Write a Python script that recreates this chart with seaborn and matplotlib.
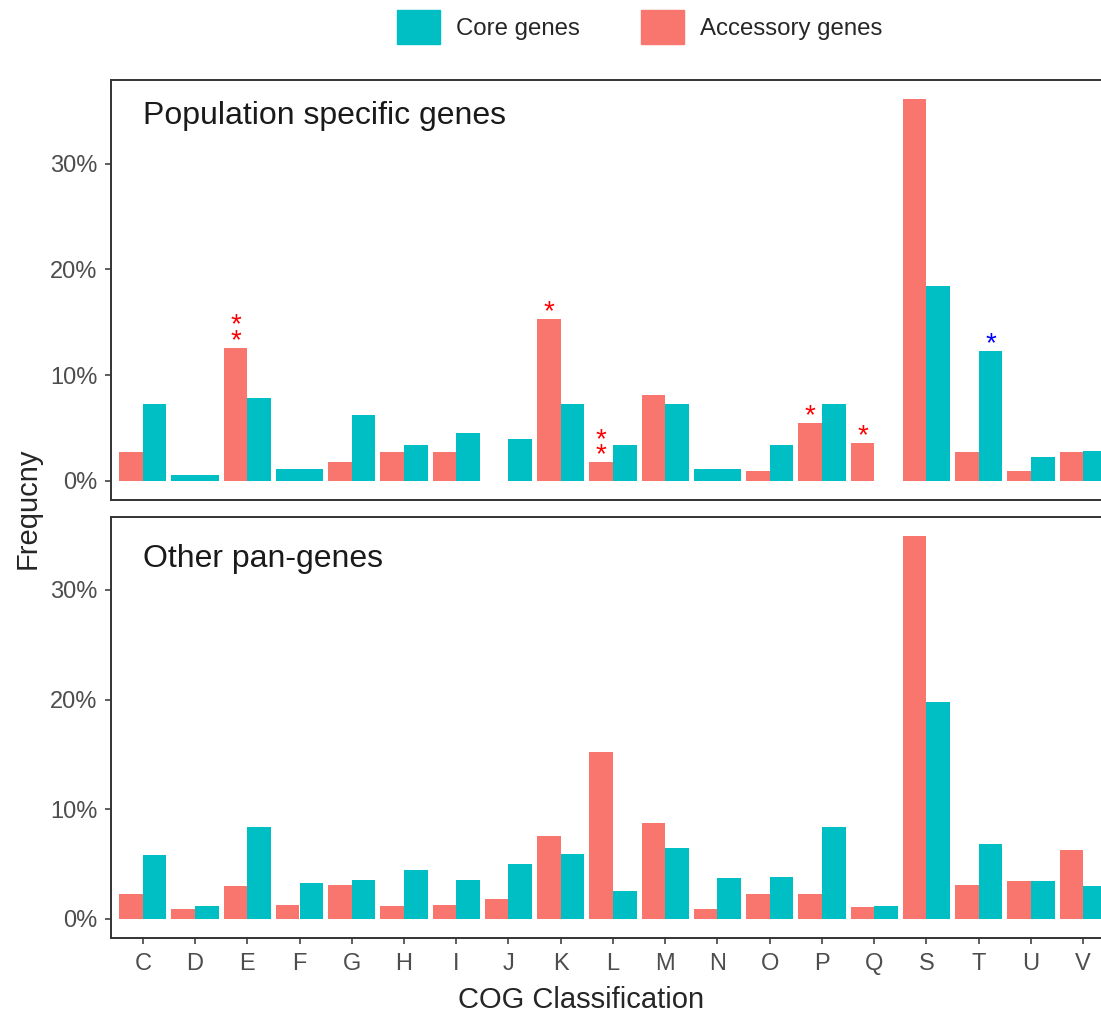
import numpy as np
import pandas as pd
import seaborn as sns
import matplotlib.pyplot as plt
from matplotlib.patches import Patch

# COG categories (no R)
cogs = ['C', 'D', 'E', 'F', 'G', 'H', 'I', 'J', 'K', 'L', 'M', 'N', 'O', 'P', 'Q', 'S', 'T', 'U', 'V']
groups = ['Accessory genes', 'Core genes']

# frequencies in %, None = group absent for that category
pop_accessory = [2.7, None, 12.6, None, 1.8, 2.7, 2.7, 0.0, 15.3, 1.8, 8.1, None, 0.9, 5.45, 3.6, 36.1, 2.7, 0.9, 2.7]
pop_core = [7.3, 0.55, 7.8, 1.1, 6.2, 3.4, 4.5, 3.95, 7.3, 3.4, 7.3, 1.1, 3.4, 7.3, 0.0, 18.4, 12.3, 2.25, 2.8]
other_accessory = [2.25, 0.9, 3.0, 1.25, 3.1, 1.15, 1.25, 1.8, 7.55, 15.2, 8.7, 0.9, 2.25, 2.25, 1.1, 34.9, 3.1, 3.45, 6.25]
other_core = [5.8, 1.15, 8.35, 3.25, 3.55, 4.45, 3.55, 5.0, 5.9, 2.55, 6.45, 3.7, 3.8, 8.35, 1.15, 19.8, 6.8, 3.45, 3.0]

# significance marks in the top panel: (cog, group, number of stars, colour)
marks = [('E', 'Accessory genes', 2, 'red'), ('K', 'Accessory genes', 1, 'red'),
         ('L', 'Accessory genes', 2, 'red'), ('P', 'Accessory genes', 1, 'red'),
         ('Q', 'Accessory genes', 1, 'red'), ('T', 'Core genes', 1, 'blue')]

pink = '#F8766D'
teal = '#00BFC4'
colors = {'Accessory genes': pink, 'Core genes': teal}

sns.set_style('white')
plt.rcParams['font.family'] = ['Liberation Sans', 'DejaVu Sans']


def long_frame(acc, core):
    rows = []
    for c, a, k in zip(cogs, acc, core):
        if a is not None:
            rows.append((c, 'Accessory genes', a))
        if k is not None:
            rows.append((c, 'Core genes', k))
    return pd.DataFrame(rows, columns=['cog', 'type', 'freq'])


def draw(ax, acc, core):
    df = long_frame(acc, core)
    n = df.groupby('cog')['freq'].transform('size')
    both = df[n == 2]
    single = df[n == 1]
    sns.barplot(data=both, x='cog', y='freq', hue='type', order=cogs, hue_order=groups,
                palette=colors, width=0.9, saturation=1, errorbar=None, linewidth=0,
                legend=False, ax=ax)
    if len(single):
        sns.barplot(data=single, x='cog', y='freq', hue='type', order=cogs, hue_order=groups,
                    palette=colors, width=0.9, dodge=False, saturation=1, errorbar=None,
                    linewidth=0, legend=False, ax=ax)
    ymax = df['freq'].max()
    ax.set_xlim(-0.6, len(cogs) - 0.4)
    ax.set_ylim(-0.05 * ymax, 1.05 * ymax)
    ax.set_yticks([0, 10, 20, 30])
    ax.set_yticklabels(['0%', '10%', '20%', '30%'])
    ax.set_xlabel('')
    ax.set_ylabel('')
    for s in ax.spines.values():
        s.set_visible(True)
        s.set_color('#333333')
        s.set_linewidth(1.4)
    ax.tick_params(axis='both', length=4, width=1.1, color='#333333', labelcolor='#4D4D4D',
                   labelsize=17, pad=6, left=True, bottom=True)
    return df


fig = plt.figure(figsize=(11.01, 10.16), dpi=100)
ax_top = fig.add_axes([111.4 / 1101, 516 / 1016, 1003.2 / 1101, 420 / 1016])
ax_bot = fig.add_axes([111.4 / 1101, 78 / 1016, 1003.2 / 1101, 421 / 1016])

top_df = draw(ax_top, pop_accessory, pop_core)
draw(ax_bot, other_accessory, other_core)
ax_top.tick_params(axis='x', bottom=False, labelbottom=False)
ax_bot.tick_params(axis='x', pad=7)

ax_top.text(0.0315, 0.895, 'Population specific genes', transform=ax_top.transAxes,
            fontsize=23, color='#1A1A1A', ha='left', va='baseline')
ax_bot.text(0.0315, 0.881, 'Other pan-genes', transform=ax_bot.transAxes,
            fontsize=23, color='#1A1A1A', ha='left', va='baseline')

# stars above the significant bars
for cog, grp, nstar, col in marks:
    i = cogs.index(cog)
    val = top_df[(top_df.cog == cog) & (top_df.type == grp)]['freq'].iloc[0]
    x = i - 0.225 if grp == 'Accessory genes' else i + 0.225
    ax_top.annotate('\n'.join(['*'] * nstar), xy=(x, val), xytext=(0, -4.5),
                    textcoords='offset points', ha='center', va='bottom',
                    fontsize=20, color=col, linespacing=0.46)

fig.text(28 / 1101, 1 - 508 / 1016, 'Frequcny', rotation=90, fontsize=21,
         ha='center', va='center')
fig.text(581 / 1101, 1 - 1000 / 1016, 'COG Classification', fontsize=21,
         ha='center', va='center')

handles = [Patch(color=teal, label='Core genes'), Patch(color=pink, label='Accessory genes')]
fig.legend(handles=handles, loc='center', bbox_to_anchor=(0.5813, 1 - 27 / 1016), ncol=2,
           frameon=False, fontsize=17.3, handlelength=1.79, handleheight=1.79,
           handletextpad=0.67, columnspacing=2.54, borderpad=0)

fig.savefig('out.png', dpi=100)
